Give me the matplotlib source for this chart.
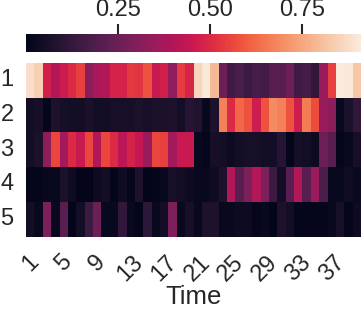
import matplotlib
matplotlib.use("Agg")
import matplotlib.pyplot as plt
import pandas as pd
import seaborn as sns

# state probabilities over time
time_steps = list(range(1, 41))
states = ["1", "2", "3", "4", "5"]

state_1 = [0.88, 0.84, 0.47, 0.40, 0.455, 0.50, 0.55, 0.32, 0.38, 0.40,
           0.48, 0.48, 0.53, 0.52, 0.58, 0.45, 0.47, 0.33, 0.54, 0.49,
           0.86, 0.90, 0.79, 0.25, 0.15, 0.18, 0.14, 0.17, 0.16, 0.21,
           0.21, 0.25, 0.15, 0.17, 0.12, 0.35, 0.55, 0.91, 0.90, 0.82]
state_2 = [0.045, 0.055, 0.01, 0.07, 0.055, 0.045, 0.045, 0.065, 0.045, 0.045,
           0.055, 0.055, 0.055, 0.065, 0.055, 0.065, 0.065, 0.07, 0.045, 0.09,
           0.08, 0.02, 0.07, 0.67, 0.50, 0.62, 0.58, 0.46, 0.58, 0.69,
           0.67, 0.58, 0.46, 0.66, 0.57, 0.35, 0.32, 0.02, 0.065, 0.12]
state_3 = [0.045, 0.065, 0.33, 0.56, 0.37, 0.50, 0.45, 0.56, 0.40, 0.56,
           0.50, 0.42, 0.48, 0.44, 0.35, 0.56, 0.55, 0.37, 0.45, 0.45,
           0.02, 0.01, 0.055, 0.045, 0.03, 0.045, 0.055, 0.055, 0.045, 0.045,
           0.09, 0.01, 0.055, 0.045, 0.03, 0.25, 0.21, 0.01, 0.02, 0.055]
state_4 = [0.01, 0.01, 0.02, 0.02, 0.065, 0.035, 0.005, 0.005, 0.03, 0.045,
           0.01, 0.035, 0.01, 0.07, 0.005, 0.01, 0.02, 0.055, 0.045, 0.03,
           0.02, 0.02, 0.035, 0.07, 0.40, 0.21, 0.29, 0.40, 0.29, 0.14,
           0.045, 0.21, 0.40, 0.21, 0.35, 0.18, 0.02, 0.02, 0.035, 0.02]
state_5 = [0.045, 0.02, 0.29, 0.02, 0.21, 0.005, 0.045, 0.14, 0.25, 0.02,
           0.02, 0.12, 0.02, 0.005, 0.11, 0.02, 0.045, 0.29, 0.02, 0.055,
           0.02, 0.07, 0.07, 0.02, 0.02, 0.03, 0.03, 0.01, 0.02, 0.0,
           0.07, 0.045, 0.01, 0.01, 0.01, 0.01, 0.02, 0.055, 0.01, 0.03]
cbar_ticks = [0.25, 0.50, 0.75]

plt.rcParams['font.family'] = ['Liberation Sans', 'DejaVu Sans']
text_color = '#262626'

df = pd.DataFrame([state_1, state_2, state_3, state_4, state_5],
                  index=states, columns=time_steps)

fig = plt.figure(figsize=(3.61, 3.13), dpi=100)
W, H = 361, 313
ax = fig.add_axes([26 / W, (H - 236.5) / H, 335 / W, 173.5 / H])
cax = fig.add_axes([26 / W, (H - 52) / H, 335 / W, 18.5 / H])

sns.heatmap(df, ax=ax, cbar_ax=cax, cmap='rocket',
            xticklabels=4, yticklabels=states,
            cbar_kws={'orientation': 'horizontal', 'ticks': cbar_ticks})

ax.tick_params(length=0, labelsize=17, colors=text_color)
ax.tick_params(axis='x', pad=10.5)
ax.tick_params(axis='y', pad=9)
plt.setp(ax.get_xticklabels(), rotation=45)
plt.setp(ax.get_yticklabels(), rotation=0)
ax.set_xlabel("Time", fontsize=18.5, color=text_color, labelpad=0)
ax.set_ylabel("")

cax.xaxis.set_ticks_position('top')
cax.tick_params(length=7, width=1.5, color=text_color, labelsize=17,
                labelcolor=text_color, pad=2)
cax.set_xticklabels(["0.25", "0.50", "0.75"])

fig.savefig("out.png", dpi=100)
